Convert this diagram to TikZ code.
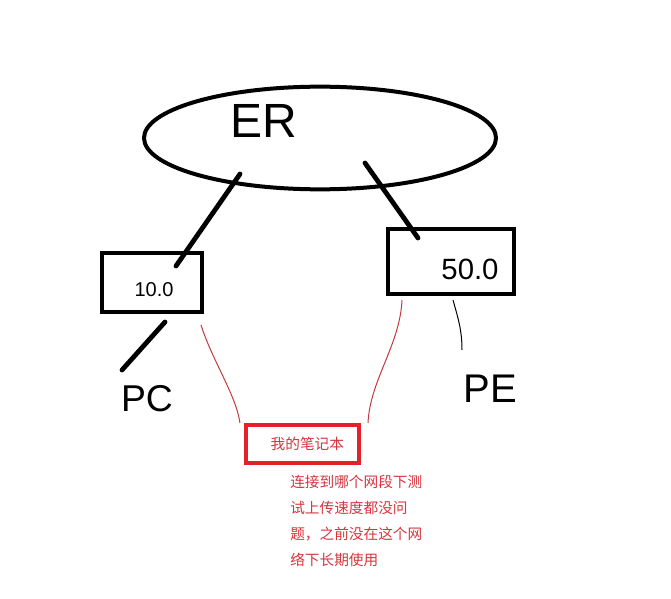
\documentclass[tikz,border=0pt]{standalone}
\usepackage{fontspec}
\setmainfont{Liberation Sans}
\newfontfamily\cjk{Noto Sans CJK SC}
\usetikzlibrary{shapes.geometric}
\definecolor{mark}{RGB}{228,32,40}
\definecolor{note}{RGB}{214,52,62}
\definecolor{wire}{RGB}{196,58,58}

\begin{document}
\begin{tikzpicture}[x=0.75pt, y=-0.75pt,
  heavy/.style={line width=3pt},
  link/.style={line width=3.6pt, line cap=round},
  thinlink/.style={line width=0.75pt},
  hand/.style={font=\fontsize{#1}{#1}\selectfont, inner sep=0pt}]
\useasboundingbox (0,0) rectangle (671,599);
% ---- the router and the two segments
\node[draw, heavy, ellipse, minimum width=264pt, minimum height=77pt, inner sep=0pt] (er) at (320,138) {};
\node[hand=36pt] (ertxt) at (264,121) {ER};
\node[draw, heavy, minimum width=75pt, minimum height=44.5pt, inner sep=0pt] (segA) at (152,282.5) {};
\node[hand=15pt] (segAtxt) at (154,290) {10.0};
\node[draw, heavy, minimum width=94.5pt, minimum height=48.75pt, inner sep=0pt] (segB) at (451,261.5) {};
\node[hand=22pt] (segBtxt) at (470,269) {50.0};
\coordinate (erA) at (240,174);
\coordinate (inA) at (176,266);
\coordinate (erB) at (365,163);
\coordinate (inB) at (418,238);
\draw[link] (erA) -- (inA);
\draw[link] (erB) -- (inB);
% ---- hosts
\node[hand=28pt] (pc) at (147,399) {PC};
\node[hand=30pt] (pe) at (490,389) {PE};
\coordinate (outA) at (165,322);
\coordinate (pcend) at (122,370);
\draw[link] (outA) -- (pcend);
\coordinate (outB) at (453,300);
\coordinate (peend) at (462,350);
\draw[thinlink] (outB) .. controls (458,318) and (462,330) .. (peend);
% ---- the laptop
\node[draw=mark, heavy, minimum width=84.75pt, minimum height=28.5pt, text=note,
  font=\cjk\fontsize{11}{13}\selectfont] (laptop) at (302,444) {\hspace{8pt}我的笔记本};
\coordinate (tapA) at (201,325);
\coordinate (tapB) at (402,300);
\draw[thinlink, wire] (tapA) .. controls (212,360) and (236,395) .. (laptop.north west -| 240,0);
\draw[thinlink, wire] (tapB) .. controls (400,345) and (370,380) .. (laptop.north west -| 368,0);
\node[anchor=north west, align=left, text=note, inner sep=0pt,
  font=\cjk\fontsize{11}{19.5}\selectfont] (remark) at (290,475)
  {连接到哪个网段下测\\试上传速度都没问\\题，之前没在这个网\\络下长期使用};
\end{tikzpicture}
\end{document}
